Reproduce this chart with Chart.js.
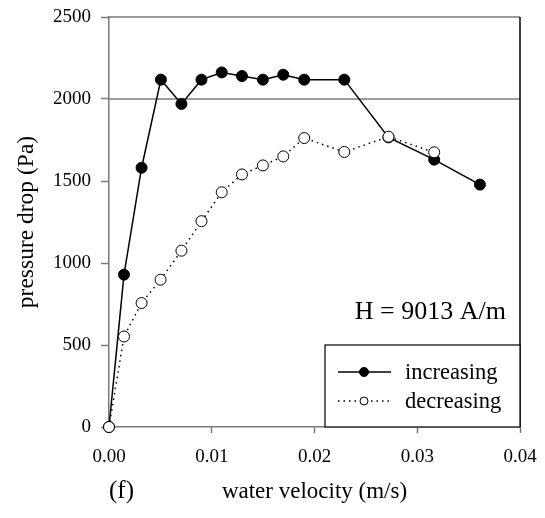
<!DOCTYPE html>
<html>
<head>
<meta charset="utf-8">
<script src="https://cdn.jsdelivr.net/npm/chart.js@4/dist/chart.umd.min.js"></script>
<style>
  html, body { margin: 0; padding: 0; background: #fff; }
  #wrap { width: 545px; height: 518px; position: relative; }
</style>
</head>
<body>
<div id="wrap"><canvas id="chartPressure"></canvas></div>
<script>
// water velocity (m/s) and pressure drop (Pa)
var velInc = [0, 0.00146, 0.00317, 0.00505, 0.00705, 0.0090, 0.01097, 0.01294, 0.01498, 0.01696, 0.0190, 0.0229, 0.0272, 0.03165, 0.0361];
var dpInc  = [0, 929, 1581, 2118, 1970, 2118, 2162, 2140, 2118, 2148, 2118, 2118, 1766, 1630, 1478];

var velDec = [0, 0.00146, 0.00317, 0.00502, 0.00705, 0.0090, 0.01097, 0.01294, 0.01498, 0.01696, 0.0190, 0.0229, 0.0272, 0.03165];
var dpDec  = [0, 552, 756, 898, 1075, 1255, 1431, 1540, 1595, 1650, 1762, 1677, 1770, 1675];

var xTicks = [0, 0.01, 0.02, 0.03, 0.04];
var yTicks = [0, 500, 1000, 1500, 2000, 2500];
var refLine = 2000;
var fieldLabel = 'H = 9013 A/m';
var panelLabel = '(f)';

var serif = "'Liberation Serif', 'Times New Roman', serif";
var axisGray = '#7a7a7a';

function toPoints(xs, ys) {
    var pts = [];
    for (var i = 0; i < xs.length; i++) {
        pts.push({x: xs[i], y: ys[i]});
    }
    return pts;
}

var extras = {
    id: 'extras',
    beforeDatasetsDraw: function(chart) {
        var ctx = chart.ctx;
        var a = chart.chartArea;
        var y = chart.scales.y;
        ctx.save();
        // reference line at 2000
        ctx.strokeStyle = axisGray;
        ctx.lineWidth = 1.5;
        var py = y.getPixelForValue(refLine);
        ctx.beginPath();
        ctx.moveTo(a.left, py);
        ctx.lineTo(a.right, py);
        ctx.stroke();
        // top edge
        ctx.beginPath();
        ctx.moveTo(a.left, a.top);
        ctx.lineTo(a.right, a.top);
        ctx.stroke();
        // right edge
        ctx.strokeStyle = '#000';
        ctx.lineWidth = 1.5;
        ctx.beginPath();
        ctx.moveTo(a.right, a.top);
        ctx.lineTo(a.right, a.bottom);
        ctx.stroke();
        ctx.restore();
    },
    afterDatasetsDraw: function(chart) {
        var ctx = chart.ctx;
        var a = chart.chartArea;
        ctx.save();
        // field strength label
        ctx.fillStyle = '#000';
        ctx.font = '26px ' + serif;
        ctx.textAlign = 'right';
        ctx.textBaseline = 'alphabetic';
        ctx.fillText(fieldLabel, a.right - 14, a.bottom - 108);

        // legend box
        var bx = a.right - 195, by = a.bottom - 82;
        ctx.fillStyle = '#fff';
        ctx.fillRect(bx, by, a.right - bx, a.bottom - by);
        ctx.strokeStyle = '#000';
        ctx.lineWidth = 1.2;
        ctx.strokeRect(bx, by, a.right - bx, a.bottom - by);

        var sets = chart.data.datasets;
        var rows = [sets[0], sets[1]];
        var rowY = [by + 27, by + 56];
        for (var i = 0; i < rows.length; i++) {
            var ds = rows[i];
            var ly = rowY[i];
            ctx.strokeStyle = '#000';
            ctx.lineWidth = ds.borderWidth;
            ctx.setLineDash(ds.borderDash || []);
            ctx.beginPath();
            ctx.moveTo(bx + 13, ly);
            ctx.lineTo(bx + 66, ly);
            ctx.stroke();
            ctx.setLineDash([]);
            ctx.beginPath();
            ctx.arc(bx + 39, ly, ds === sets[0] ? 4.5 : 4, 0, Math.PI * 2);
            ctx.fillStyle = ds.pointBackgroundColor;
            ctx.fill();
            ctx.lineWidth = 1;
            ctx.stroke();
            ctx.fillStyle = '#000';
            ctx.font = '22.5px ' + serif;
            ctx.textAlign = 'left';
            ctx.textBaseline = 'middle';
            ctx.fillText(ds.label, bx + 80, ly + 1);
        }

        // panel label
        ctx.font = '25px ' + serif;
        ctx.textAlign = 'left';
        ctx.textBaseline = 'alphabetic';
        ctx.fillText(panelLabel, a.left, chart.height - 20);
        ctx.restore();
    }
};

var chartPressure = new Chart(document.getElementById('chartPressure'), {
    type: 'scatter',
    data: {
        datasets: [{
            label: 'increasing',
            data: toPoints(velInc, dpInc),
            showLine: true,
            borderColor: '#000',
            borderWidth: 1.5,
            pointBackgroundColor: '#000',
            pointBorderColor: '#000',
            pointBorderWidth: 1,
            pointRadius: 5.5,
            order: 1
        }, {
            label: 'decreasing',
            data: toPoints(velDec, dpDec),
            showLine: true,
            borderColor: '#000',
            borderWidth: 1.5,
            borderDash: [1.5, 4],
            pointBackgroundColor: '#fff',
            pointBorderColor: '#000',
            pointBorderWidth: 1,
            pointRadius: 5.5,
            order: 0
        }]
    },
    options: {
        responsive: true,
        maintainAspectRatio: false,
        animation: false,
        clip: false,
        layout: { autoPadding: false, padding: { left: 0, top: 17, right: 25, bottom: 0 } },
        plugins: {
            legend: { display: false },
            tooltip: { enabled: false }
        },
        scales: {
            x: {
                type: 'linear',
                min: 0,
                max: 0.04,
                afterBuildTicks: function(scale) {
                    scale.ticks = xTicks.map(function(v) { return {value: v}; });
                },
                afterFit: function(scale) {
                    scale.height = 91;
                    scale.paddingLeft = 0;
                    scale.paddingRight = 0;
                },
                grid: { drawOnChartArea: false, tickLength: 6, color: axisGray, tickWidth: 1.5 },
                border: { color: axisGray, width: 1.5 },
                ticks: {
                    color: '#000',
                    padding: 13,
                    font: { family: serif, size: 19 },
                    callback: function(v) { return v.toFixed(2); }
                },
                title: {
                    display: true,
                    text: 'water velocity (m/s)',
                    color: '#000',
                    font: { family: serif, size: 23 },
                    padding: { top: 0, bottom: 12 }
                }
            },
            y: {
                type: 'linear',
                min: 0,
                max: 2500,
                afterBuildTicks: function(scale) {
                    scale.ticks = yTicks.map(function(v) { return {value: v}; });
                },
                afterFit: function(scale) {
                    scale.width = 109;
                    scale.paddingTop = 0;
                    scale.paddingBottom = 0;
                },
                grid: { drawOnChartArea: false, tickLength: 8, color: axisGray, tickWidth: 1.5 },
                border: { color: axisGray, width: 1.5 },
                ticks: {
                    color: '#000',
                    padding: 10,
                    font: { family: serif, size: 19 },
                    callback: function(v) { return String(v); }
                },
                title: {
                    display: true,
                    text: 'pressure drop (Pa)',
                    color: '#000',
                    font: { family: serif, size: 23.5 },
                    padding: { top: 13, bottom: 0 }
                }
            }
        }
    },
    plugins: [extras]
});
</script>
</body>
</html>
